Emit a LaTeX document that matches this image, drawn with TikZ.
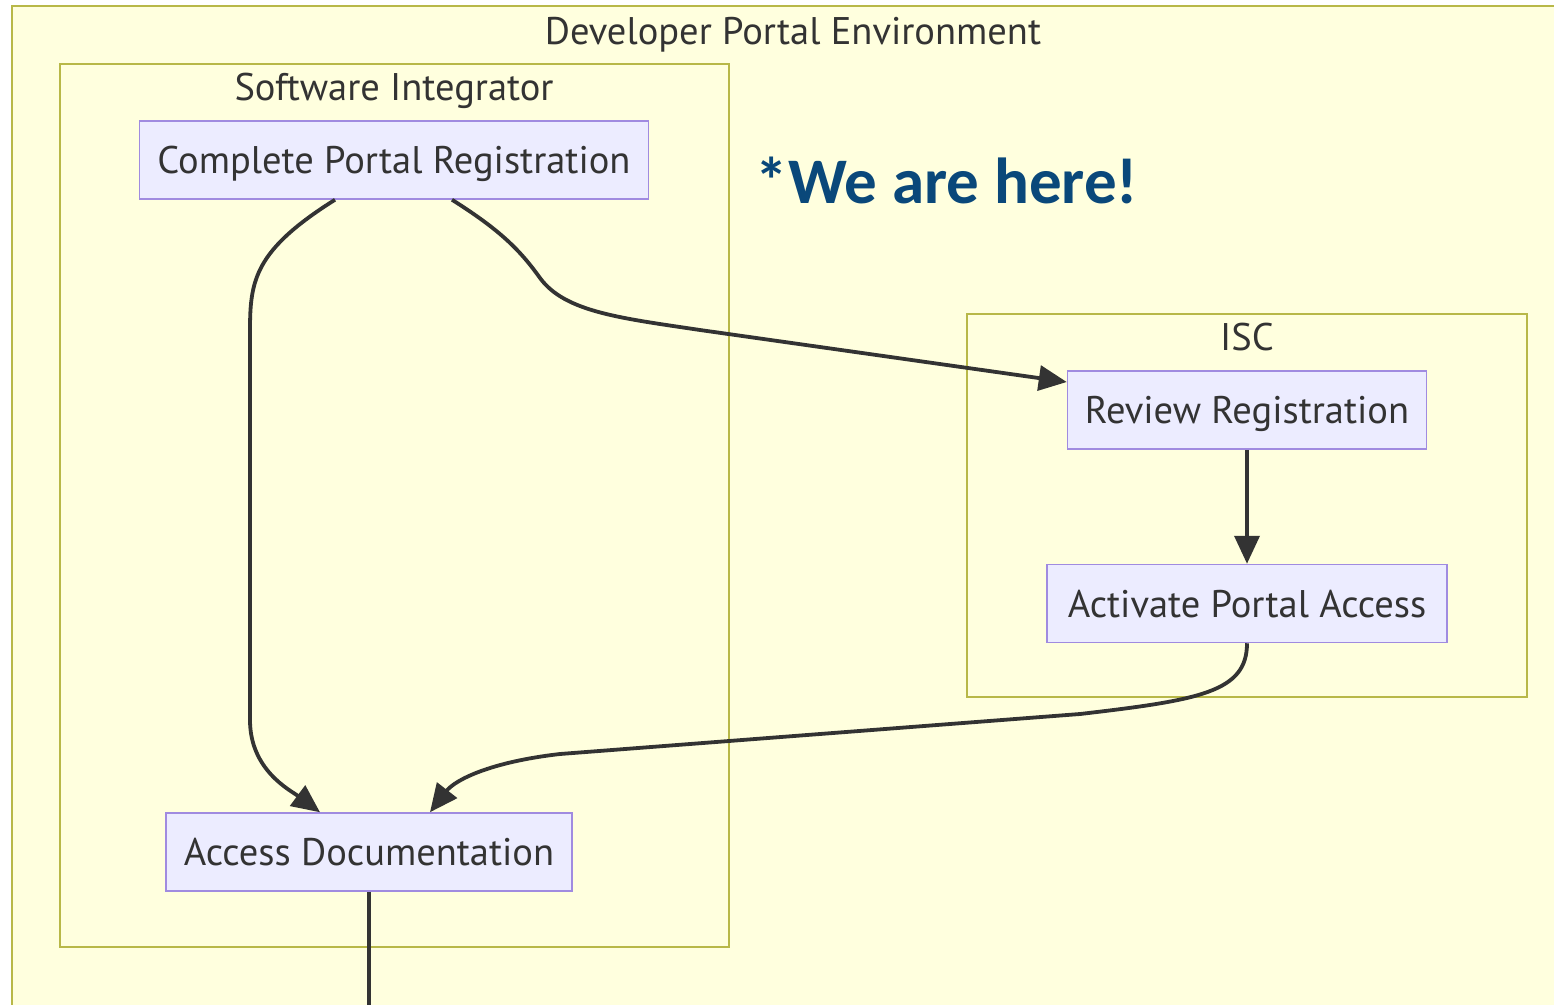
\documentclass[tikz,border=0pt]{standalone}
\usepackage{fontspec}
\setmainfont{PT Sans}
\newfontfamily\notefont{Carlito}
\usepackage{tikz}
\usetikzlibrary{arrows.meta,positioning,calc}
\definecolor{grpfill}{HTML}{FFFFDE}
\definecolor{grpline}{HTML}{B8B848}
\definecolor{nodefill}{HTML}{ECECFF}
\definecolor{nodeline}{HTML}{A08BE0}
\definecolor{txt}{HTML}{333333}
\definecolor{notecol}{RGB}{10,72,122}

\begin{document}
\begin{tikzpicture}[x=1pt, y=-1pt,
    proc/.style={draw=nodeline, fill=nodefill, line width=1.5pt, minimum height=78pt,
      text height=27pt, text depth=0pt, text=txt, font=\fontsize{38.5}{44}\selectfont},
    grp/.style={draw=grpline, fill=grpfill, line width=1.5pt},
    grptitle/.style={anchor=base, text=txt, font=\fontsize{38.5}{44}\selectfont},
    flow/.style={draw=txt, line width=3.8pt, -{Triangle[length=28pt, width=25pt]}}]
    \useasboundingbox (0,0) rectangle (1554,1004);
    \clip (0,0) rectangle (1554,1004);
    \fill[white] (0,0) rectangle (1554,1004);
    % groups
    \draw[grp] (12,6) rectangle (1580,1030);
    \draw[grp] (60,64) rectangle (729,947);
    \draw[grp] (967,314) rectangle (1527,697);
    \node (envT) [grptitle] at (793,44) {Developer Portal Environment};
    \node (siT) [grptitle] at (394,100) {Software Integrator};
    \node (iscT) [grptitle] at (1247,350) {ISC};
    \node (here) [anchor=base, text=notecol, font=\notefont\bfseries\fontsize{65}{72}\selectfont]
      at (947,203) {*We are here!};
    % steps
    \node (cpr) [proc, minimum width=509pt] at (394,160) {Complete Portal Registration};
    \node (rr) [proc, minimum width=359pt] at (1247,410) {Review Registration};
    \node (apa) [proc, minimum width=400pt, below=114pt of rr] {Activate Portal Access};
    \node (ad) [proc, minimum width=406pt] at (369,852) {Access Documentation};
    \coordinate (out) at (369,1010);
    % edges
    \draw[flow] ([xshift=-59pt]cpr.south) .. controls (255,250) and (250,280) .. (250,330)
      -- (250,720) .. controls (250,770) and (290,790) .. ([xshift=-49pt]ad.north);
    \draw[flow] ([xshift=58pt]cpr.south) .. controls (500,230) and (520,250) .. (540,278)
      .. controls (565,312) and (620,318) .. (700,330) -- ([yshift=28pt]rr.west);
    \draw[flow] (rr) -- (apa);
    \draw[flow] (apa.south) .. controls (1247,692) and (1200,700) .. (1080,714)
      -- (560,754) .. controls (490,762) and (455,780) .. ([xshift=61pt]ad.north);
    \draw[draw=txt, line width=3.8pt] (ad) -- (out);
\end{tikzpicture}
\end{document}
